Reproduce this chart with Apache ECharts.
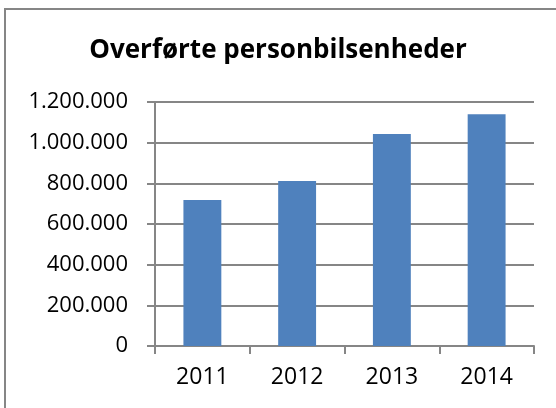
<!DOCTYPE html>
<html>
<head>
<meta charset="utf-8">
<script src="https://cdn.jsdelivr.net/npm/echarts@6/dist/echarts.min.js"></script>
<style>
  html, body { margin: 0; padding: 0; background: #fff; }
  #chart { width: 556px; height: 408px; }
</style>
</head>
<body>
<div id="chart"></div>
<script>
// data
const years = ['2011', '2012', '2013', '2014']
const units = [718000, 811000, 1043000, 1140000]
const yTicks = [0, 200000, 400000, 600000, 800000, 1000000, 1200000]

const chart = echarts.init(document.getElementById('chart'))
const font = 'Open Sans, Liberation Sans, sans-serif'
const lineColor = '#868686'

// Danish style thousands separator
function fmt(v) {
  return String(v).replace(/\B(?=(\d{3})+(?!\d))/g, '.')
}

chart.setOption({
  animation: false,
  title: {
    text: 'Overførte personbilsenheder',
    left: 'center',
    top: 33,
    textStyle: {
      fontFamily: font,
      fontSize: 26,
      fontWeight: 'bold',
      color: '#000'
    }
  },
  graphic: [{
    type: 'rect',
    shape: { x: 5, y: 9, width: 600, height: 500 },
    style: { fill: 'none', stroke: lineColor, lineWidth: 2 },
    silent: true
  }],
  grid: {
    left: 155,
    right: 22,
    top: 102,
    bottom: 62
  },
  xAxis: {
    type: 'category',
    data: years,
    axisLine: { lineStyle: { color: lineColor, width: 2 } },
    axisTick: { show: true, length: 8, lineStyle: { color: lineColor, width: 2 } },
    axisLabel: {
      margin: 20,
      fontFamily: font,
      fontSize: 23,
      color: '#000'
    }
  },
  yAxis: {
    type: 'value',
    min: yTicks[0],
    max: yTicks[yTicks.length - 1],
    interval: yTicks[1] - yTicks[0],
    axisLine: { show: true, lineStyle: { color: lineColor, width: 2 } },
    axisTick: { show: true, length: 8, lineStyle: { color: lineColor, width: 2 } },
    splitLine: { lineStyle: { color: lineColor, width: 2 } },
    axisLabel: {
      margin: 27,
      fontFamily: font,
      fontSize: 22,
      color: '#000',
      formatter: fmt
    }
  },
  series: [{
    name: 'Overførte personbilsenheder',
    type: 'bar',
    data: units,
    barWidth: '40%',
    itemStyle: { color: '#4F81BD' }
  }]
})
</script>
</body>
</html>
